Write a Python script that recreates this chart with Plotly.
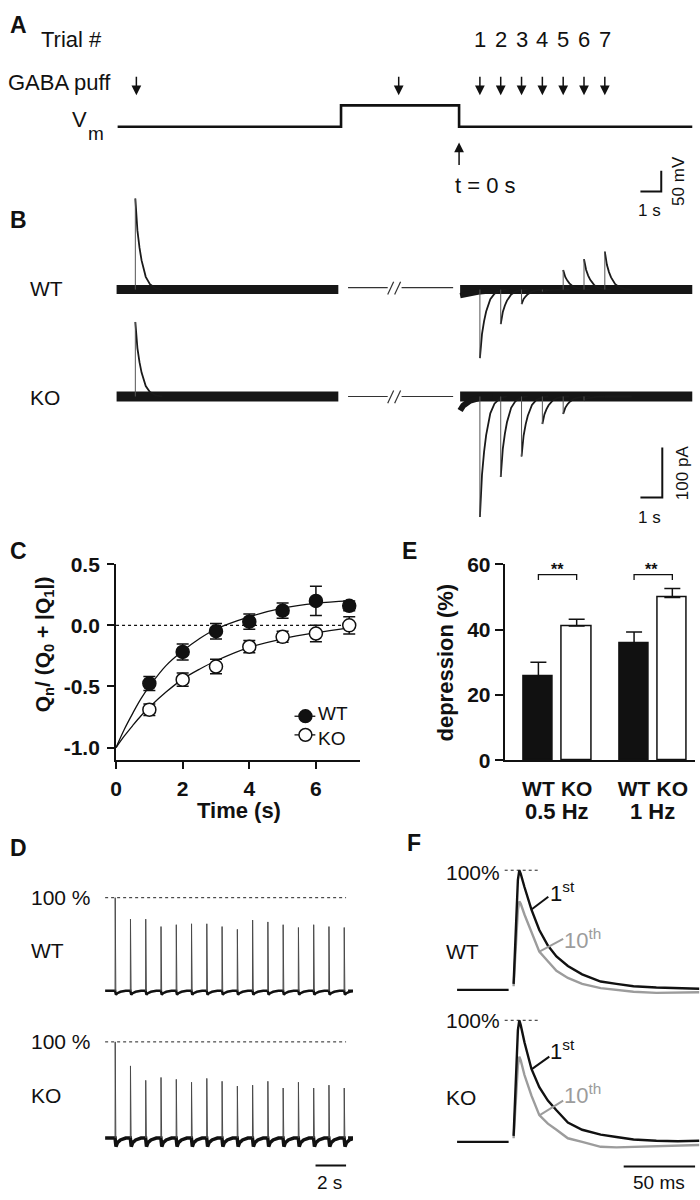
import plotly.graph_objects as go

W, H = 700, 1200
FONT = "Liberation Sans, Arial, Helvetica, sans-serif"
INK = "#111111"
GRAY = "#9c9c9c"

# ======================= DATA =======================
# --- A: stimulation protocol (time in s, t = 0 at end of step) ---
vm_time_s = [-16.4, -5.67, -5.67, 0.0, 0.0, 11.2]
vm_mv = [-70, -70, -18, -18, -70, -70]
puff_time_s = [-15.5, -2.9, 1, 2, 3, 4, 5, 6, 7]
trial_time_s = [1, 2, 3, 4, 5, 6, 7]
trial_labels = ["1", "2", "3", "4", "5", "6", "7"]

# --- B: GABA currents (pA) ---
b_left_span_s = [-16.45, -5.8]
b_right_span_s = [0.05, 11.2]
b_left_puff_s = -15.55
b_left_amp_wt = 182
b_left_amp_ko = 149
b_trial_amp_wt = [-137, -69, -29, -4, 39, 61, 76]
b_trial_amp_ko = [-241, -161, -120, -55, -35, -8, 0]
b_decay_dt_s = [0, 0.05, 0.1, 0.2, 0.3, 0.5, 0.7, 1.0, 1.3]
b_decay_frac = [1.0, 0.8, 0.65, 0.46, 0.32, 0.14, 0.06, 0.01, 0.0]
b_recov_t_wt = [0.05, 0.4, 0.9, 1.6, 2.4]
b_recov_pa_wt = [-12, -9, -5, -2, 0]
b_recov_t_ko = [0.05, 0.2, 0.5, 1.0, 1.6]
b_recov_pa_ko = [-28, -18, -9, -3, 0]

# --- C: recovery of charge ---
c_time_s = [1, 2, 3, 4, 5, 6, 7]
c_wt = [-0.476, -0.218, -0.048, 0.03, 0.12, 0.20, 0.16]
c_wt_err = [0.058, 0.065, 0.063, 0.063, 0.063, 0.12, 0.04]
c_ko = [-0.69, -0.445, -0.337, -0.175, -0.094, -0.067, 0.0]
c_ko_err = [0.047, 0.054, 0.059, 0.05, 0.045, 0.067, 0.07]
c_fit_t = [0, 0.25, 0.5, 0.75, 1, 1.5, 2, 2.5, 3, 4, 5, 6, 7]
c_fit_wt = [-1.0, -0.85, -0.72, -0.60, -0.50, -0.33, -0.21, -0.11, -0.03, 0.07, 0.14, 0.18, 0.20]
c_fit_ko = [-1.0, -0.905, -0.82, -0.74, -0.67, -0.546, -0.44, -0.36, -0.29, -0.18, -0.11, -0.06, -0.02]
c_xticks = [0, 2, 4, 6]
c_yticks = [-1.0, -0.5, 0.0, 0.5]
c_ytick_labels = ["-1.0", "-0.5", "0.0", "0.5"]

# --- D: trains (% of first response) ---
d_stim_s = [0, 1, 2, 3, 4, 5, 6, 7, 8, 9, 10, 11, 12, 13, 14, 15]
d_amp_wt = [100, 77, 77, 69, 71, 72, 72, 69, 66, 76, 74, 71, 68, 71, 69, 68]
d_amp_ko = [100, 75, 60, 63, 61, 58, 62, 59, 54, 55, 59, 52, 58, 52, 55, 52]
d_span_s = [-0.65, 15.26]
d_dip_dt_s = [0.06, 0.15, 0.35, 0.7]
d_dip_wt = [-4, -2.5, -1, 0]
d_dip_ko = [-9, -5, -2, 0]

# --- E: depression ---
e_freq = ["0.5 Hz", "0.5 Hz", "1 Hz", "1 Hz"]
e_geno = ["WT", "KO", "WT", "KO"]
e_dep = [25.8, 41.1, 35.7, 49.8]
e_err = [4.2, 2.1, 3.6, 2.8]
e_yticks = [0, 20, 40, 60]

# --- F: 1st vs 10th response (% of 1st, time in ms) ---
f_pre_t = [-39.6, -3.5]
f_pre_v = [0, 0]
f_t_ms = [0, 1, 2, 3, 4, 5, 7.6, 12.5, 18, 24, 30, 38, 48, 61, 72, 84, 100, 115, 130]
f_wt_1st = [5, 35, 70, 92, 100, 97, 86, 67, 50, 37, 28, 20, 13, 7, 5, 3, 2, 1.5, 1]
f_wt_10th = [3, 25, 50, 67, 74, 72, 63, 48, 32, 24, 16, 10, 5, 1.5, 0, -1.5, -2.5, -2.5, -2]
f_ko_1st = [5, 35, 70, 92, 100, 96, 82, 60, 45, 34, 26, 16, 10, 6, 4, 2, 1, 0.5, 1]
f_ko_10th = [3, 23, 45, 63, 70, 67, 55, 38, 22, 15, 10, 3, 0, -4, -4.5, -4, -3.5, -3, -2.5]

# ======================= HELPERS =======================
def PX(x):
    return x / W


def PY(y):
    return 1 - y / H


def xdom(l, r):
    return [l / W, r / W]


def ydom(t, b):
    return [1 - b / H, 1 - t / H]


def xrng(l, r, p0, v0, s):
    return [v0 - (p0 - l) / s, v0 + (r - p0) / s]


def yrng(t, b, p0, v0, s):
    return [v0 - (b - p0) / s, v0 + (p0 - t) / s]


def hidden(domain, rng, anchor):
    return dict(domain=domain, range=rng, visible=False, fixedrange=True,
                anchor=anchor, showgrid=False, zeroline=False)


fig = go.Figure()


def line(x, y, xa, ya, color=INK, width=2, dash=None, shape="linear"):
    fig.add_trace(go.Scatter(x=x, y=y, xaxis=xa, yaxis=ya, mode="lines",
                             line=dict(color=color, width=width, dash=dash, shape=shape),
                             showlegend=False, hoverinfo="skip"))


# ======================= PANEL A =======================
line(vm_time_s, vm_mv, "x", "y", width=2.6)
# scale bar 1 s / 50 mV
line([8.71, 9.71, 9.71], [-227, -227, -177], "x", "y", width=2)

# ======================= PANEL B =======================
def b_panel(ya, left_amp, trial_amp, rec_t, rec_pa, band_w):
    # baseline bands (flat sweeps + one drooping sweep after the step)
    line(b_left_span_s, [0, 0], "x2", ya, color="#161616", width=band_w)
    line(b_right_span_s, [0, 0], "x2", ya, color="#161616", width=band_w)
    line(rec_t, rec_pa, "x2", ya, color="#161616", width=band_w * 0.6)
    rx, ry, dx, dy = [], [], [], []
    for tp, amp in [(b_left_puff_s, left_amp)] + list(zip(trial_time_s, trial_amp)):
        rx += [tp, tp, None]
        ry += [0, amp, None]
        dx += [tp + d for d in b_decay_dt_s] + [None]
        dy += [amp * f for f in b_decay_frac] + [None]
    line(dx, dy, "x2", ya, color="#1a1a1a", width=1.8)
    line(rx, ry, "x2", ya, color="#555555", width=1)


b_panel("y2", b_left_amp_wt, b_trial_amp_wt, b_recov_t_wt, b_recov_pa_wt, 9)
b_panel("y3", b_left_amp_ko, b_trial_amp_ko, b_recov_t_ko, b_recov_pa_ko, 10)
# scale bar 1 s / 100 pA (on KO axis)
line([8.71, 9.76, 9.76], [-202, -202, -102], "x2", "y3", width=2)

# ======================= PANEL C =======================
line(c_fit_t, c_fit_wt, "x3", "y4", width=1.3, shape="spline")
line(c_fit_t, c_fit_ko, "x3", "y4", width=1.3, shape="spline")
line([0, 7.1], [0, 0], "x3", "y4", width=1.2, dash="dot")
fig.add_trace(go.Scatter(x=c_time_s, y=c_wt, xaxis="x3", yaxis="y4", mode="markers",
                         marker=dict(size=13, color=INK, line=dict(color=INK, width=1.5)),
                         error_y=dict(type="data", array=c_wt_err, color=INK, thickness=1.5, width=6),
                         cliponaxis=False, showlegend=False, hoverinfo="skip"))
fig.add_trace(go.Scatter(x=c_time_s, y=c_ko, xaxis="x3", yaxis="y4", mode="markers",
                         marker=dict(size=13, color="white", line=dict(color=INK, width=1.5)),
                         error_y=dict(type="data", array=c_ko_err, color=INK, thickness=1.5, width=6),
                         cliponaxis=False, showlegend=False, hoverinfo="skip"))

# ======================= PANEL D =======================
def d_panel(ya, amps, dips, base_w):
    bx, by = [d_span_s[0]], [0]
    sx, sy = [], []
    for tk, amp in zip(d_stim_s, amps):
        bx.append(tk)
        by.append(0)
        bx += [tk + d for d in d_dip_dt_s]
        by += dips
        sx += [tk, tk + 0.01, tk + 0.05, None]
        sy += [0, amp, 0, None]
    bx.append(d_span_s[1])
    by.append(0)
    line(bx, by, "x5", ya, width=base_w)
    line(sx, sy, "x5", ya, color="#4a4a4a", width=1)
    line([d_span_s[0], 15.13], [100, 100], "x5", ya, color="#222222", width=1, dash="3px,3px")


d_panel("y6", d_amp_wt, d_dip_wt, 2.5)
d_panel("y7", d_amp_ko, d_dip_ko, 3.5)
line([13.13, 15.13], [-28.6, -28.6], "x5", "y7", width=2)

# ======================= PANEL E =======================
e_pos = [["0.5 Hz", "1 Hz"].index(f) * 2.5 + ["WT", "KO"].index(g) for f, g in zip(e_freq, e_geno)]
fig.add_trace(go.Bar(x=e_pos, y=e_dep, xaxis="x4", yaxis="y5", width=0.76,
                     marker=dict(color=[INK if g == "WT" else "white" for g in e_geno],
                                 line=dict(color=INK, width=1.5)),
                     error_y=dict(type="data", symmetric=False, array=e_err, arrayminus=[0] * 4,
                                  color=INK, thickness=1.5, width=8),
                     showlegend=False, hoverinfo="skip"))

# ======================= PANEL F =======================
def f_panel(ya, first, tenth):
    line(f_t_ms, tenth, "x6", ya, color=GRAY, width=2.4)
    line(f_pre_t, f_pre_v, "x6", ya, width=2.4)
    line(f_t_ms, first, "x6", ya, width=2.4)
    line([-6.25, 17.4], [100, 100], "x6", ya, color="#222222", width=1, dash="3px,3px")


f_panel("y8", f_wt_1st, f_wt_10th)
f_panel("y9", f_ko_1st, f_ko_10th)
line([77.1, 127.1], [-20.2, -20.2], "x6", "y9", width=2)

# ======================= AXES =======================
axis_style = dict(showline=True, linewidth=2, linecolor=INK, ticks="outside", tickwidth=2,
                  tickcolor=INK, showgrid=False, zeroline=False, fixedrange=True,
                  tickfont=dict(family=FONT, size=21, color=INK))

ab_x = xrng(0, 700, 457, 0, 21)
layout_axes = dict(
    xaxis=hidden(xdom(0, 700), ab_x, "y"),
    yaxis=hidden(ydom(0, 210), yrng(0, 210, 117, -70, 0.42), "x"),
    xaxis2=hidden(xdom(0, 700), ab_x, "y2"),
    yaxis2=hidden(ydom(180, 370), yrng(180, 370, 283, 0, 0.51), "x2"),
    yaxis3=hidden(ydom(290, 530), yrng(290, 530, 392, 0, 0.51), "x2"),
    xaxis3=dict(domain=xdom(111, 357), range=[0, (357 - 111) / 33.6], anchor="y4",
                tickvals=c_xticks, ticktext=[f"<b>{v}</b>" for v in c_xticks], ticklen=7,
                ticklabelstandoff=1, **axis_style),
    yaxis4=dict(domain=ydom(563, 763), range=[-1.105, 0.5], anchor="x3",
                tickvals=c_yticks, ticktext=[f"<b>{v}</b>" for v in c_ytick_labels], ticklen=7,
                ticklabelstandoff=3, **axis_style),
    xaxis4=dict(domain=xdom(503, 695), range=xrng(503, 695, 537, 0, 38.6), anchor="y5",
                tickvals=e_pos, ticktext=[f"<b>{g}</b>" for g in e_geno],
                ticklabelstandoff=8, **{**axis_style, "ticks": ""}),
    yaxis5=dict(domain=ydom(563, 763), range=[0, 60], anchor="x4",
                tickvals=e_yticks, ticktext=[f"<b>{v}</b>" for v in e_yticks], ticklen=8,
                **axis_style),
    xaxis5=hidden(xdom(95, 350), xrng(95, 350, 110, 0, 15.4), "y6"),
    yaxis6=hidden(ydom(880, 1030), yrng(880, 1030, 998, 0, 0.95), "x5"),
    yaxis7=hidden(ydom(1030, 1200), yrng(1030, 1200, 1148, 0, 0.98), "x5"),
    xaxis6=hidden(xdom(440, 700), xrng(440, 700, 512, 0, 1.44), "y8"),
    yaxis8=hidden(ydom(860, 1015), yrng(860, 1015, 997, 0, 1.22), "x6"),
    yaxis9=hidden(ydom(1015, 1200), yrng(1015, 1200, 1152, 0, 1.24), "x6"),
)

# ======================= TEXT =======================
ann = []


def txt(x, y, s, size=21, bold=False, anchor="left", color=INK, angle=0, xref="paper",
        yanchor="middle"):
    ann.append(dict(x=PX(x) if xref == "paper" else x, y=PY(y), xref=xref, yref="paper",
                    text=f"<b>{s}</b>" if bold else s, showarrow=False, xanchor=anchor,
                    yanchor=yanchor, textangle=angle,
                    font=dict(family=FONT, size=size, color=color)))


# panel letters
for letter, x, y in [("A", 2, 13), ("B", 2, 212), ("C", 2, 550), ("D", 2, 852),
                     ("E", 397, 550), ("F", 402, 847)]:
    txt(x, y, letter, size=23, bold=True)

# A
txt(33, 28, "Trial #", size=22)
for t, lab in zip(trial_time_s, trial_labels):
    txt(t, 28, lab, size=22, anchor="center", xref="x")
txt(0, 72, "GABA puff", size=22)
txt(65, 110, "V", size=22)
txt(81, 124, "m", size=19)
txt(451, 177, "t = 0 s", size=22)
txt(679, 172, "50 mV", size=17, anchor="center", angle=-90)
txt(649, 202, "1 s", size=17, anchor="center")
for t in puff_time_s:
    ann.append(dict(x=t, y=PY(85), xref="x", yref="paper", ax=0, ay=-20, text="",
                    showarrow=True, arrowhead=2, arrowsize=1.3, arrowwidth=1.5, arrowcolor=INK))
ann.append(dict(x=0, y=PY(133), xref="x", yref="paper", ax=0, ay=24, text="",
                showarrow=True, arrowhead=2, arrowsize=1.3, arrowwidth=1.5, arrowcolor=INK))

# B
txt(22, 282, "WT", size=21)
txt(22, 393, "KO", size=21)
txt(683, 470, "100 pA", size=17, anchor="center", angle=-90)
txt(649, 515, "1 s", size=17, anchor="center")

# C
txt(38, 645, "Q<sub>n</sub>/ (Q<sub>0</sub> + |Q<sub>1</sub>|)", size=21, bold=True,
    anchor="center", angle=-90)
txt(235, 814, "Time (s)", size=22, bold=True, anchor="center")
txt(313, 728, "WT", size=19, yanchor="bottom")
txt(313, 728, "KO", size=19, yanchor="top")

# E
txt(443, 663, "depression (%)", size=22, bold=True, anchor="center", angle=-90)
txt(556, 568, "**", size=16, bold=True, anchor="center")
txt(651, 568, "**", size=16, bold=True, anchor="center")
txt(556, 815, "0.5 Hz", size=22, bold=True, anchor="center")
txt(652, 815, "1 Hz", size=22, bold=True, anchor="center")

# D
txt(23, 903, "100 %", size=21)
txt(23, 1050, "100 %", size=21)
txt(23, 957, "WT", size=21)
txt(23, 1105, "KO", size=21)
txt(326, 1193, "2 s", size=19, anchor="center")

# F
txt(442, 877, "100%", size=21)
txt(442, 1028, "100%", size=21)
txt(442, 958, "WT", size=21)
txt(442, 1107, "KO", size=21)
txt(547, 897, "1<sup>st</sup>", size=22)
txt(547, 1058, "1<sup>st</sup>", size=22)
txt(561, 945, "10<sup>th</sup>", size=22, color=GRAY)
txt(561, 1103, "10<sup>th</sup>", size=22, color=GRAY)
txt(659, 1193, "50 ms", size=19, anchor="center")

# ======================= SHAPES =======================
shapes = []


def pline(x0, y0, x1, y1, color=INK, width=1.2):
    shapes.append(dict(type="line", xref="paper", yref="paper", x0=PX(x0), y0=PY(y0),
                       x1=PX(x1), y1=PY(y1), line=dict(color=color, width=width)))


# B break marks
for yb in (281, 392):
    pline(345, yb, 451, yb, color="#333333", width=1.2)
    shapes.append(dict(type="rect", xref="paper", yref="paper", x0=PX(385), x1=PX(399),
                       y0=PY(yb + 3), y1=PY(yb - 3), fillcolor="white", line=dict(width=0)))
    pline(385, yb + 7, 391, yb - 6, color="#333333", width=1.2)
    pline(392, yb + 7, 398, yb - 6, color="#333333", width=1.2)

# C legend
for yl, fill in ((718, INK), (737, "white")):
    pline(291, yl, 312, yl, width=1.3)
    shapes.append(dict(type="circle", xref="paper", yref="paper", x0=PX(295.5), x1=PX(308.5),
                       y0=PY(yl + 6.5), y1=PY(yl - 6.5), fillcolor=fill,
                       line=dict(color=INK, width=1.5)))

# E significance brackets
for x0, x1 in ((e_pos[0], e_pos[1]), (e_pos[2], e_pos[3])):
    shapes.append(dict(type="path", xref="x4", yref="y5",
                       path=f"M {x0},55.2 L {x0},56.8 L {x1},56.8 L {x1},55.2",
                       line=dict(color=INK, width=1.3)))

# F leader lines
pline(530, 915, 547, 902, width=2)
pline(538, 958, 562, 945, color=GRAY, width=2)
pline(530, 1078, 548, 1065, width=2)
pline(538, 1125, 562, 1110, color=GRAY, width=2)

fig.update_layout(width=W, height=H, margin=dict(l=0, r=0, t=0, b=0), autosize=False,
                  paper_bgcolor="white", plot_bgcolor="rgba(0,0,0,0)", showlegend=False,
                  bargap=0, annotations=ann, shapes=shapes,
                  font=dict(family=FONT, color=INK), **layout_axes)

fig.write_html("out.html", config={"displayModeBar": False},
               post_script="document.body.style.margin='0px';document.body.style.overflow='hidden';")
